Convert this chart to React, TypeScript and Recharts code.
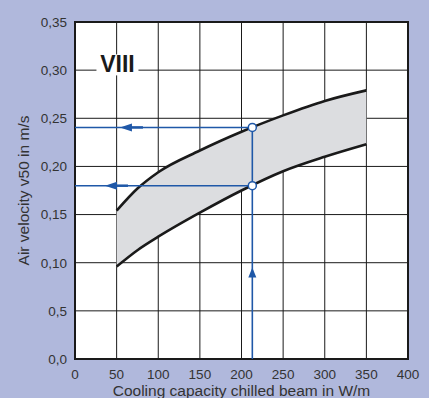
import { ComposedChart, Area, Line, XAxis, YAxis, CartesianGrid, ReferenceLine, ReferenceDot, ReferenceArea, Label } from 'recharts';

const capacity = [50, 75, 100, 150, 200, 250, 300, 350];
const upperVelocity = [0.154, 0.177, 0.194, 0.2165, 0.236, 0.253, 0.268, 0.279];
const lowerVelocity = [0.096, 0.113, 0.127, 0.152, 0.175, 0.195, 0.21, 0.223];

const xTicks = [0, 50, 100, 150, 200, 250, 300, 350, 400];
const yTicks = [0, 0.05, 0.1, 0.15, 0.2, 0.25, 0.3, 0.35];
const yTickLabels = ['0,0', '0,5', '0,10', '0,15', '0,20', '0,25', '0,30', '0,35'];

// reading example drawn in blue
const exampleCapacity = 213;
const exampleUpper = 0.2405;
const exampleLower = 0.18;
const leftArrowX = [54, 36];
const upArrowY = 0.095;

const chartTitle = 'VIII';
const titleAt = { x: 51, y: 0.307 };

const BG = '#b0b8dc';
const BLUE = '#1f58a8';
const FONT = '"Liberation Sans", Arial, sans-serif';

const data = capacity.map((c, i) => ({
  capacity: c,
  upper: upperVelocity[i],
  lower: lowerVelocity[i],
  band: [lowerVelocity[i], upperVelocity[i]],
}));

const LeftArrow = (props: any) => {
  const { cx, cy } = props;
  return (
    <g>
      <path d={`M${cx},${cy} L${cx + 12},${cy - 4} L${cx + 12},${cy + 4} Z`} fill={BLUE} />
      <line x1={cx + 11} y1={cy} x2={cx + 23} y2={cy} stroke={BLUE} strokeWidth={2.5} />
    </g>
  );
};

const UpArrow = (props: any) => {
  const { cx, cy } = props;
  return <path d={`M${cx},${cy} L${cx - 4},${cy + 10} L${cx + 4},${cy + 10} Z`} fill={BLUE} />;
};

const TitleMark = (props: any) => {
  const { cx, cy } = props;
  return (
    <g>
      <rect x={cx - 21} y={cy - 9} width={42} height={21} fill="#fff" />
      <text x={cx} y={cy + 8.5} textAnchor="middle" fontFamily={FONT} fontWeight="bold" fontSize={23} fill="#1a1a1a">
        {chartTitle}
      </text>
    </g>
  );
};

export default function App() {
  return (
    <div style={{ position: 'absolute', left: 0, top: 0, width: 429, height: 398, background: BG }}>
      <ComposedChart width={429} height={398} data={data} margin={{ top: 22, right: 21, bottom: 0, left: 0 }}>
        <CartesianGrid fill="#fff" stroke="#1a1a1a" strokeWidth={1} horizontalValues={yTicks} verticalValues={xTicks} />
        <XAxis
          dataKey="capacity"
          type="number"
          domain={[0, 400]}
          ticks={xTicks}
          height={39}
          axisLine={false}
          tickLine={false}
          tickMargin={4}
          tick={{ fill: '#333', fontSize: 13.5, fontFamily: FONT }}
        >
          <Label value="Cooling capacity chilled beam in W/m" position="insideBottom" offset={2} fill="#333" fontSize={15.5} fontFamily={FONT} />
        </XAxis>
        <YAxis
          type="number"
          domain={[0, 0.35]}
          ticks={yTicks}
          width={75}
          axisLine={false}
          tickLine={false}
          tickMargin={2}
          tickFormatter={(v: number) => yTickLabels[Math.round(v / 0.05)]}
          tick={{ fill: '#333', fontSize: 13.5, fontFamily: FONT }}
        >
          <Label value="Air velocity v50 in m/s" angle={-90} position="insideLeft" offset={23} fill="#333" fontSize={15.5} fontFamily={FONT} style={{ textAnchor: 'middle' }} />
        </YAxis>
        <Area type="monotone" dataKey="band" fill="#dcdde0" fillOpacity={1} stroke="none" isAnimationActive={false} />
        <ReferenceDot x={titleAt.x} y={titleAt.y} r={0} shape={TitleMark} />
        <Line type="monotone" dataKey="upper" stroke="#1a1a1a" strokeWidth={2.6} dot={false} isAnimationActive={false} />
        <Line type="monotone" dataKey="lower" stroke="#1a1a1a" strokeWidth={2.6} dot={false} isAnimationActive={false} />
        <ReferenceLine segment={[{ x: 0, y: exampleUpper }, { x: exampleCapacity, y: exampleUpper }]} stroke={BLUE} strokeWidth={1.6} />
        <ReferenceLine segment={[{ x: 0, y: exampleLower }, { x: exampleCapacity, y: exampleLower }]} stroke={BLUE} strokeWidth={1.6} />
        <ReferenceLine segment={[{ x: exampleCapacity, y: 0 }, { x: exampleCapacity, y: exampleUpper }]} stroke={BLUE} strokeWidth={1.6} />
        <ReferenceDot x={leftArrowX[0]} y={exampleUpper} r={0} shape={LeftArrow} />
        <ReferenceDot x={leftArrowX[1]} y={exampleLower} r={0} shape={LeftArrow} />
        <ReferenceDot x={exampleCapacity} y={upArrowY} r={0} shape={UpArrow} />
        <ReferenceDot x={exampleCapacity} y={exampleUpper} r={4} fill="#fff" stroke={BLUE} strokeWidth={1.5} />
        <ReferenceDot x={exampleCapacity} y={exampleLower} r={4} fill="#fff" stroke={BLUE} strokeWidth={1.5} />
        <ReferenceArea x1={0} x2={400} y1={0} y2={0.35} fill="none" stroke="#1a1a1a" strokeWidth={2} />
      </ComposedChart>
    </div>
  );
}
